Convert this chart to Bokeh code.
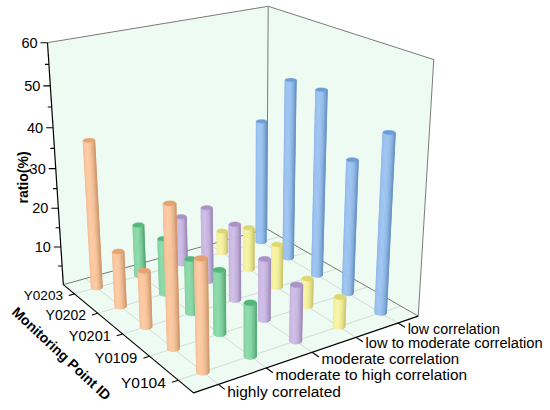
import numpy as np
from bokeh.plotting import figure
from bokeh.models import Range1d, ColumnDataSource
from bokeh.core.properties import value
from bokeh.embed import file_html
from bokeh.resources import INLINE

# ---------------- data ----------------
categories = ["highly correlated", "moderate to high correlation",
              "moderate correlation", "low to moderate correlation",
              "low correlation"]
points = ["Y0104", "Y0109", "Y0201", "Y0202", "Y0203"]   # front -> back
highly = [26.2, 34.1, 14.0, 14.1, 37.5]
mod_high = [12.8, 15.7, 13.7, 14.3, 13.5]
moderate = [13.7, 15.2, 19.3, 19.3, 12.8]
low_mod = [7.4, 7.1, 11.2, 11.2, 6.0]
low = [43.5, 33.6, 47.1, 46.5, 32.9]
z_ticks = [10, 20, 30, 40, 50, 60]
z_minor = [5, 15, 25, 35, 45, 55]
series_colors = ["#FDB57E", "#5FCB88", "#BDA3DD", "#F6F07F", "#78AEEE"]
ZMAX = 60.0

# ---------------- 3D view (camera calibration of the box) ----------------
world = np.array([
    [0, 0, 0], [1, 0, 0], [0, 1, 0], [1, 1, 0],
    [0, 1, 1], [1, 1, 1], [1, 0, 1],
    [0, 1, 10 / 60], [0, 1, 20 / 60], [0, 1, 30 / 60], [0, 1, 40 / 60], [0, 1, 50 / 60],
], dtype=float)
img = np.array([
    [193, 392], [418, 316], [63, 284], [266, 228],
    [47, 42], [268, 6], [433, 59],
    [60.3, 246.7], [57.8, 208.3], [55.2, 168.3], [52.6, 127.3], [49.8, 85],
], dtype=float)
m = img.mean(axis=0)
s = np.sqrt(((img - m) ** 2).sum(axis=1).mean() / 2)
T = np.array([[1 / s, 0, -m[0] / s], [0, 1 / s, -m[1] / s], [0, 0, 1]])
imn = (img - m) / s
A = []
for (X, Y, Z), (x, y) in zip(world, imn):
    A.append([X, Y, Z, 1, 0, 0, 0, 0, -x * X, -x * Y, -x * Z, -x])
    A.append([0, 0, 0, 0, X, Y, Z, 1, -y * X, -y * Y, -y * Z, -y])
_, _, Vt = np.linalg.svd(np.array(A))
P = np.linalg.inv(T) @ Vt[-1].reshape(3, 4)
_, _, Vc = np.linalg.svd(P)
C = Vc[-1][:3] / Vc[-1][3]


def proj(u, v, z):
    u = np.asarray(u, float); v = np.asarray(v, float); z = np.asarray(z, float)
    u, v, z = np.broadcast_arrays(u, v, z)
    H = P @ np.vstack([u.ravel(), v.ravel(), z.ravel() / ZMAX, np.ones(u.size)])
    return (H[0] / H[2]).reshape(u.shape), (H[1] / H[2]).reshape(u.shape)


def hex2rgb(h):
    h = h.lstrip("#")
    return np.array([int(h[k:k + 2], 16) for k in (0, 2, 4)], float)


def rgb2hex(c):
    c = np.clip(np.round(c), 0, 255).astype(int)
    return "#%02x%02x%02x" % tuple(c)


def mix(a, b, t):
    return a + (b - a) * t


p = figure(width=550, height=410, x_range=Range1d(0, 550), y_range=Range1d(410, 0),
           output_backend="svg", toolbar_location=None, min_border=0)
p.axis.visible = False
p.grid.visible = False
p.outline_line_color = None
p.background_fill_color = "white"
p.border_fill_color = "white"

# walls and floor
wall = "#EEFBF3"
faces_x, faces_y = [], []
for quad in ([(0, 1, 0), (1, 1, 0), (1, 1, ZMAX), (0, 1, ZMAX)],
             [(1, 1, 0), (1, 0, 0), (1, 0, ZMAX), (1, 1, ZMAX)],
             [(0, 0, 0), (1, 0, 0), (1, 1, 0), (0, 1, 0)]):
    q = np.array(quad, float)
    x, y = proj(q[:, 0], q[:, 1], q[:, 2])
    faces_x.append(list(x)); faces_y.append(list(y))
p.patches(faces_x, faces_y, fill_color=wall, line_color=None)

# floor grid
gx, gy = [], []
tt = np.linspace(0, 1, 2)
for k in range(5):
    c = (k + 0.5) / 5
    x, y = proj(np.full(2, c), tt, 0); gx.append(list(x)); gy.append(list(y))
    x, y = proj(tt, np.full(2, c), 0); gx.append(list(x)); gy.append(list(y))
p.multi_line(gx, gy, line_color="#D3DCD6", line_width=1)

# back / gray edges
ex, ey = [], []
for a, b in [((0, 1, 0), (1, 1, 0)), ((1, 1, 0), (1, 0, 0)), ((1, 1, 0), (1, 1, ZMAX)),
             ((0, 1, ZMAX), (1, 1, ZMAX)), ((1, 1, ZMAX), (1, 0, ZMAX)), ((1, 0, 0), (1, 0, ZMAX))]:
    x, y = proj([a[0], b[0]], [a[1], b[1]], [a[2], b[2]])
    ex.append(list(x)); ey.append(list(y))
p.multi_line(ex, ey, line_color="#7A7A7A", line_width=1)

# ---------------- cylinders ----------------
series = [highly, mod_high, moderate, low_mod, low]
bars = []
for i, vals in enumerate(series):
    for j, val in enumerate(vals):
        u = (i + 0.5) / 5
        v = (j + 0.5) / 5
        bars.append((np.hypot(C[0] - u, C[1] - v), u, v, val, series_colors[i]))
bars.sort(key=lambda b: -b[0])

R = 0.022
NS = 14
px, py, pc = [], [], []
white = np.array([255, 255, 255.0]); black = np.zeros(3)
for _, u, v, val, col in bars:
    base = hex2rgb(col)
    light = mix(base, white, 0.28)
    dark = mix(base, black, 0.2)
    phi = np.arctan2(C[1] - v, C[0] - u)
    th = phi + np.linspace(-np.pi / 2, np.pi / 2, NS + 1)
    cu = u + R * np.cos(th); cv = v + R * np.sin(th)
    bx, by = proj(cu, cv, 0)
    tx, ty = proj(cu, cv, val)
    xmin, xmax = min(bx[0], bx[-1]), max(bx[0], bx[-1])
    for k in range(NS):
        xm = 0.5 * (bx[k] + bx[k + 1])
        sfrac = (xm - xmin) / (xmax - xmin)
        b = max(0.0, 1 - ((sfrac - 0.33) / 0.72) ** 2)
        px.append([bx[k], bx[k + 1], tx[k + 1], tx[k]])
        py.append([by[k], by[k + 1], ty[k + 1], ty[k]])
        pc.append(rgb2hex(mix(dark, light, b)))
    ang = np.linspace(0, 2 * np.pi, 37)
    ex_, ey_ = proj(u + R * np.cos(ang), v + R * np.sin(ang), val)
    px.append(list(ex_)); py.append(list(ey_))
    pc.append(rgb2hex(mix(base, dark, 0.5)))
src = ColumnDataSource(dict(xs=px, ys=py, c=pc))
p.patches("xs", "ys", source=src, fill_color="c", line_color="c", line_width=0.6)

# ---------------- front edges and axes ----------------
fx, fy = proj([1, 0, 0], [0, 0, 1], [0, 0, 0])
p.line(list(fx), list(fy), line_color="black", line_width=1.2)
zx, zy = proj([0, 0], [1, 1], [0, ZMAX])
p.line(list(zx), list(zy), line_color="black", line_width=1.2)

# z ticks
tx_, ty_ = proj(np.zeros(len(z_ticks)), np.ones(len(z_ticks)), z_ticks)
p.segment(x0=list(tx_), y0=list(ty_), x1=list(tx_ - 7), y1=list(ty_), line_color="black", line_width=1.1)
mx_, my_ = proj(np.zeros(len(z_minor)), np.ones(len(z_minor)), z_minor)
p.segment(x0=list(mx_), y0=list(my_), x1=list(mx_ - 4), y1=list(my_), line_color="black", line_width=1.1)
p.text(x=list(tx_ - 10), y=list(ty_), text=[str(t) for t in z_ticks], text_align="right",
       text_baseline="middle", text_font=value("Liberation Sans"), text_font_size="14.5px",
       text_color="black")
p.text(x=[22], y=[177], text=["ratio(%)"], angle=np.pi / 2, text_align="center",
       text_baseline="middle", text_font=value("Liberation Sans"), text_font_size="14px",
       text_font_style="bold", text_color="black")

# monitoring point ticks / labels (nearer labels slightly larger, as in perspective)
vv = [(j + 0.5) / 5 for j in range(len(points))]
a0x, a0y = proj(np.zeros(5), vv, 0)
a1x, a1y = proj(np.full(5, -0.025), vv, 0)
p.segment(x0=list(a0x), y0=list(a0y), x1=list(a1x), y1=list(a1y), line_color="black", line_width=1.1)
lx, ly = proj(np.full(5, -0.05), vv, 0)
ysrc = ColumnDataSource(dict(x=list(lx), y=list(ly - 2), t=points,
                             fs=["15.5px", "14.8px", "14.5px", "14px", "13.6px"]))
p.text(x="x", y="y", text="t", source=ysrc, text_align="right", text_baseline="middle",
       text_font=value("Liberation Sans"), text_font_size="fs", text_color="black")
p.text(x=[61], y=[353], text=["Monitoring Point ID"], angle=-43 * np.pi / 180,
       text_align="center", text_baseline="middle", text_font=value("Liberation Sans"),
       text_font_size="14px", text_font_style="bold", text_color="black")

# category ticks / labels
uu = [(i + 0.5) / 5 for i in range(len(categories))]
c0x, c0y = proj(uu, np.zeros(5), 0)
c1x, c1y = proj(uu, np.full(5, -0.04), 0)
p.segment(x0=list(c0x), y0=list(c0y), x1=list(c1x), y1=list(c1y), line_color="black", line_width=1.1)
kx, ky = proj(uu, np.full(5, -0.055), 0)
csrc = ColumnDataSource(dict(x=list(kx), y=list(ky), t=categories,
                             fs=["15.5px", "15.4px", "15px", "14.7px", "14.3px"]))
p.text(x="x", y="y", text="t", source=csrc, text_align="left", text_baseline="middle",
       text_font=value("Liberation Sans"), text_font_size="fs", text_color="black")

open("out.html", "w").write(file_html(p, INLINE))
